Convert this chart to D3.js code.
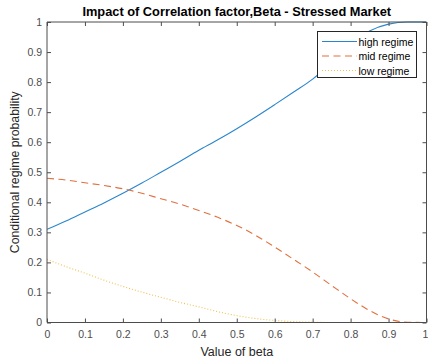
<!DOCTYPE html>
<html>
<head>
<meta charset="utf-8">
<script src="https://cdn.jsdelivr.net/npm/d3@7"></script>
<style>
  html, body { margin: 0; padding: 0; background: #fff; }
  svg { display: block; font-family: "Liberation Sans", Arial, sans-serif; }
</style>
</head>
<body>
<svg id="chart" width="428" height="360"></svg>
<script>
// Beta values sampled along the x axis
const beta = [0, 0.05, 0.1, 0.15, 0.2, 0.25, 0.3, 0.35, 0.4, 0.45, 0.5,
              0.55, 0.6, 0.65, 0.7, 0.75, 0.8, 0.85, 0.9, 0.95, 1];

// Conditional regime probabilities for each beta
const highRegime = [0.31, 0.338, 0.368, 0.398, 0.43, 0.464, 0.50, 0.536, 0.573, 0.608, 0.645,
                    0.684, 0.725, 0.767, 0.81, 0.865, 0.925, 0.97, 0.993, 1.0, 1.0];
const midRegime  = [0.48, 0.474, 0.465, 0.456, 0.445, 0.43, 0.412, 0.394, 0.373, 0.35, 0.323,
                    0.29, 0.251, 0.21, 0.168, 0.123, 0.079, 0.04, 0.012, 0.001, 0];
const lowRegime  = [0.21, 0.186, 0.164, 0.141, 0.12, 0.101, 0.084, 0.067, 0.052, 0.036, 0.023,
                    0.013, 0.007, 0.003, 0.001, 0, 0, 0, 0, 0, 0];

const seriesNames = ["high regime", "mid regime", "low regime"];
const xTicks = [0, 0.1, 0.2, 0.3, 0.4, 0.5, 0.6, 0.7, 0.8, 0.9, 1];
const yTicks = [0, 0.1, 0.2, 0.3, 0.4, 0.5, 0.6, 0.7, 0.8, 0.9, 1];

const titleText = "Impact of Correlation factor,Beta - Stressed Market";
const xLabelText = "Value of beta";
const yLabelText = "Conditional regime probability";

const series = [
  { name: seriesNames[0], values: highRegime, color: "#2a86cc", dash: null, width: 1.1 },
  { name: seriesNames[1], values: midRegime,  color: "#e0703f", dash: "7,4.5", width: 1.1 },
  { name: seriesNames[2], values: lowRegime,  color: "#f0c050", dash: "1,2", width: 1.1 }
];

const svg = d3.select("#chart");
const plotLeft = 47, plotRight = 426.5, plotTop = 22, plotBottom = 322.5;

const x = d3.scaleLinear().domain([0, 1]).range([plotLeft, plotRight]);
const y = d3.scaleLinear().domain([0, 1]).range([plotBottom, plotTop]);

const axisColor = "#4d4d4d";
const tickLen = 4;

// Plot lines (clipped to axes box)
svg.append("clipPath").attr("id", "plotClip")
  .append("rect").attr("x", plotLeft).attr("y", plotTop - 1)
  .attr("width", plotRight - plotLeft).attr("height", plotBottom - plotTop + 2);

const line = d3.line()
  .x((d, i) => x(beta[i]))
  .y(d => y(d))
  .curve(d3.curveMonotoneX);

const plot = svg.append("g").attr("clip-path", "url(#plotClip)");
series.forEach(s => {
  plot.append("path")
    .attr("d", line(s.values))
    .attr("fill", "none")
    .attr("stroke", s.color)
    .attr("stroke-width", s.width)
    .attr("stroke-dasharray", s.dash);
});

// Axes (ticks point inward, mirrored on top and right)
const fmt = d => d3.format("~g")(d);
const xAxisBottom = d3.axisBottom(x).tickValues(xTicks).tickSize(-tickLen).tickPadding(8).tickFormat(fmt);
const xAxisTop = d3.axisTop(x).tickValues(xTicks).tickSize(-tickLen).tickFormat("");
const yAxisLeft = d3.axisLeft(y).tickValues(yTicks).tickSize(-tickLen).tickPadding(5).tickFormat(fmt);
const yAxisRight = d3.axisRight(y).tickValues(yTicks).tickSize(-tickLen).tickFormat("");

function styleAxis(g) {
  g.selectAll("path").attr("stroke", axisColor).attr("stroke-width", 1);
  g.selectAll("line").attr("stroke", axisColor);
  g.selectAll("text").attr("fill", axisColor).attr("font-size", 10.5)
    .attr("font-family", "Liberation Sans, Arial, sans-serif");
}

svg.append("g").attr("transform", `translate(0,${plotBottom})`).call(xAxisBottom).call(styleAxis)
  .call(g => g.select(".domain").attr("d", `M${plotLeft},0H${plotRight}`))
  // keep the last tick label inside the canvas edge
  .call(g => g.selectAll(".tick text").filter(d => d === 1).attr("dx", -1.5));
svg.append("g").attr("transform", `translate(0,${plotTop})`).call(xAxisTop).call(styleAxis)
  .call(g => g.select(".domain").attr("d", `M${plotLeft},0H${plotRight}`));
svg.append("g").attr("transform", `translate(${plotLeft},0)`).call(yAxisLeft).call(styleAxis)
  .call(g => g.select(".domain").attr("d", `M0,${plotBottom}V${plotTop}`));
svg.append("g").attr("transform", `translate(${plotRight},0)`).call(yAxisRight).call(styleAxis)
  .call(g => g.select(".domain").attr("d", `M0,${plotBottom}V${plotTop}`));

// Title and axis labels
svg.append("text")
  .attr("x", (plotLeft + plotRight) / 2).attr("y", 16)
  .attr("text-anchor", "middle")
  .attr("font-weight", "bold").attr("font-size", 12.8)
  .attr("fill", "#000")
  .text(titleText);

svg.append("text")
  .attr("x", (plotLeft + plotRight) / 2).attr("y", 356)
  .attr("text-anchor", "middle")
  .attr("font-size", 12.5).attr("fill", "#262626")
  .text(xLabelText);

svg.append("text")
  .attr("transform", `translate(19,${(plotTop + plotBottom) / 2}) rotate(-90)`)
  .attr("text-anchor", "middle")
  .attr("font-size", 12.3).attr("fill", "#262626")
  .text(yLabelText);

// Legend
const legend = svg.append("g");
legend.append("rect")
  .attr("x", 317.5).attr("y", 31.5).attr("width", 99).attr("height", 46)
  .attr("fill", "#fff").attr("stroke", "#262626").attr("stroke-width", 1);

series.forEach((s, i) => {
  const ly = 41.5 + i * 14.5;
  legend.append("line")
    .attr("x1", 322).attr("x2", 357).attr("y1", ly).attr("y2", ly)
    .attr("stroke", s.color).attr("stroke-width", s.width)
    .attr("stroke-dasharray", s.dash);
  legend.append("text")
    .attr("x", 358.5).attr("y", ly + 4)
    .attr("font-size", 10.5).attr("fill", "#000")
    .text(s.name);
});
</script>
</body>
</html>
